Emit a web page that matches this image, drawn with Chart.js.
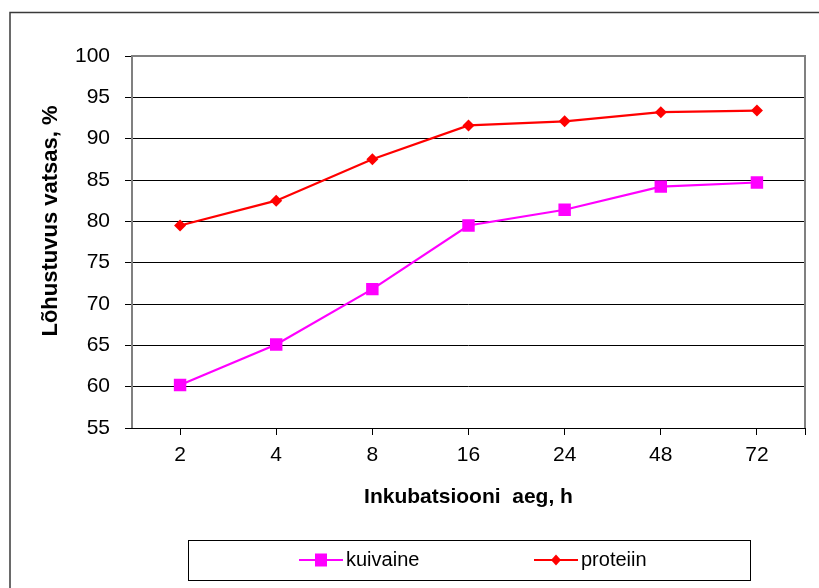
<!DOCTYPE html>
<html>
<head>
<meta charset="utf-8">
<script src="https://cdn.jsdelivr.net/npm/chart.js@4/dist/chart.umd.min.js"></script>
<style>
  html, body { margin: 0; padding: 0; background: #ffffff; }
  canvas { display: block; }
</style>
</head>
<body>
<canvas id="c" width="819" height="588"></canvas>
<script>
// Incubation times (h) and degradability in the rumen (%)
const hours = ['2', '4', '8', '16', '24', '48', '72'];
const kuivaine = [60.2, 65.1, 71.8, 79.5, 81.4, 84.2, 84.7];
const proteiin = [79.5, 82.5, 87.5, 91.6, 92.1, 93.2, 93.4];
const seriesNames = ['kuivaine', 'proteiin'];
const yMin = 55, yMax = 100, yStep = 5;
const xTitle = 'Inkubatsiooni  aeg, h';
const yTitle = 'Lõhustuvus vatsas, %';

const FONT = '"Liberation Sans", Arial, sans-serif';

// Outer frame, grey plot-area border, extra end tick and the y-axis title
const framePlugin = {
  id: 'frame',
  beforeDraw(chart) {
    const ctx = chart.ctx;
    ctx.save();
    ctx.fillStyle = '#ffffff';
    ctx.fillRect(0, 0, chart.width, chart.height);
    ctx.strokeStyle = '#3a3a3a';
    ctx.lineWidth = 1.5;
    ctx.strokeRect(10, 12.5, chart.width + 20, chart.height + 20);
    ctx.restore();
  },
  beforeDatasetsDraw(chart) {
    const ctx = chart.ctx;
    const a = chart.chartArea;
    ctx.save();
    ctx.strokeStyle = '#808080';
    ctx.lineWidth = 2;
    ctx.beginPath();
    ctx.moveTo(a.left, a.bottom);
    ctx.lineTo(a.left, a.top);
    ctx.lineTo(a.right, a.top);
    ctx.lineTo(a.right, a.bottom);
    ctx.stroke();
    // closing tick at the right end of the category axis
    ctx.strokeStyle = '#000000';
    ctx.lineWidth = 1;
    ctx.beginPath();
    ctx.moveTo(Math.round(a.right) + 0.5, a.bottom);
    ctx.lineTo(Math.round(a.right) + 0.5, a.bottom + 7);
    ctx.stroke();
    // y-axis title
    ctx.translate(51, 221);
    ctx.rotate(-Math.PI / 2);
    ctx.fillStyle = '#000000';
    ctx.font = 'bold 22px ' + FONT;
    ctx.textAlign = 'center';
    ctx.textBaseline = 'middle';
    ctx.fillText(yTitle, 0, 0);
    ctx.restore();
  }
};

// Boxed legend below the axis title, with line + marker samples
const boxLegendPlugin = {
  id: 'boxLegend',
  afterDraw(chart) {
    const ctx = chart.ctx;
    ctx.save();
    ctx.strokeStyle = '#000000';
    ctx.lineWidth = 1;
    ctx.strokeRect(188.5, 540.5, 562, 40);
    const cy = 560;
    const starts = [299, 534];
    chart.data.datasets.forEach((ds, i) => {
      const x0 = starts[i];
      ctx.strokeStyle = ds.borderColor;
      ctx.lineWidth = 2;
      ctx.beginPath();
      ctx.moveTo(x0, cy);
      ctx.lineTo(x0 + 44, cy);
      ctx.stroke();
      const mx = x0 + 22;
      ctx.fillStyle = ds.pointBackgroundColor;
      ctx.beginPath();
      if (ds.pointStyle === 'rect') {
        ctx.rect(mx - 6, cy - 6.5, 12, 13);
      } else {
        ctx.moveTo(mx, cy - 5.5);
        ctx.lineTo(mx + 5, cy);
        ctx.lineTo(mx, cy + 5.5);
        ctx.lineTo(mx - 5, cy);
        ctx.closePath();
      }
      ctx.fill();
      ctx.fillStyle = '#000000';
      ctx.font = '20px ' + FONT;
      ctx.textAlign = 'left';
      ctx.textBaseline = 'middle';
      ctx.fillText(ds.label, x0 + 47, cy);
    });
    ctx.restore();
  }
};

new Chart(document.getElementById('c'), {
  type: 'line',
  data: {
    labels: hours,
    datasets: [
      {
        label: seriesNames[0],
        data: kuivaine,
        borderColor: '#ff00ff',
        backgroundColor: '#ff00ff',
        pointBackgroundColor: '#ff00ff',
        pointBorderColor: '#ff00ff',
        borderWidth: 2.2,
        pointStyle: 'rect',
        pointRadius: 8.8,
        pointBorderWidth: 0,
        tension: 0
      },
      {
        label: seriesNames[1],
        data: proteiin,
        borderColor: '#ff0000',
        backgroundColor: '#ff0000',
        pointBackgroundColor: '#ff0000',
        pointBorderColor: '#ff0000',
        borderWidth: 2.2,
        pointStyle: 'rectRot',
        pointRadius: 6,
        pointBorderWidth: 0,
        tension: 0
      }
    ]
  },
  options: {
    responsive: false,
    animation: false,
    layout: { padding: { top: 56, right: 14, left: 0, bottom: 0 } },
    plugins: {
      legend: { display: false },
      tooltip: { enabled: false },
      title: { display: false }
    },
    scales: {
      x: {
        type: 'category',
        offset: true,
        afterFit(scale) { scale.height = 160; },
        grid: {
          display: true,
          drawOnChartArea: false,
          offset: false,
          tickLength: 7,
          color: '#000000',
          lineWidth: 1
        },
        border: { display: true, color: '#000000', width: 1 },
        ticks: {
          color: '#000000',
          font: { family: FONT, size: 21 },
          padding: 8,
          maxRotation: 0,
          autoSkip: false
        },
        title: {
          display: true,
          text: xTitle,
          color: '#000000',
          font: { family: FONT, size: 21, weight: 'bold' },
          padding: { top: 0, bottom: 78 }
        }
      },
      y: {
        min: yMin,
        max: yMax,
        afterFit(scale) { scale.width = 132; },
        grid: {
          color: '#000000',
          lineWidth: 1,
          tickLength: 7
        },
        border: { display: false },
        ticks: {
          stepSize: yStep,
          color: '#000000',
          font: { family: FONT, size: 21 },
          padding: 15
        }
      }
    }
  },
  plugins: [framePlugin, boxLegendPlugin]
});
</script>
</body>
</html>
